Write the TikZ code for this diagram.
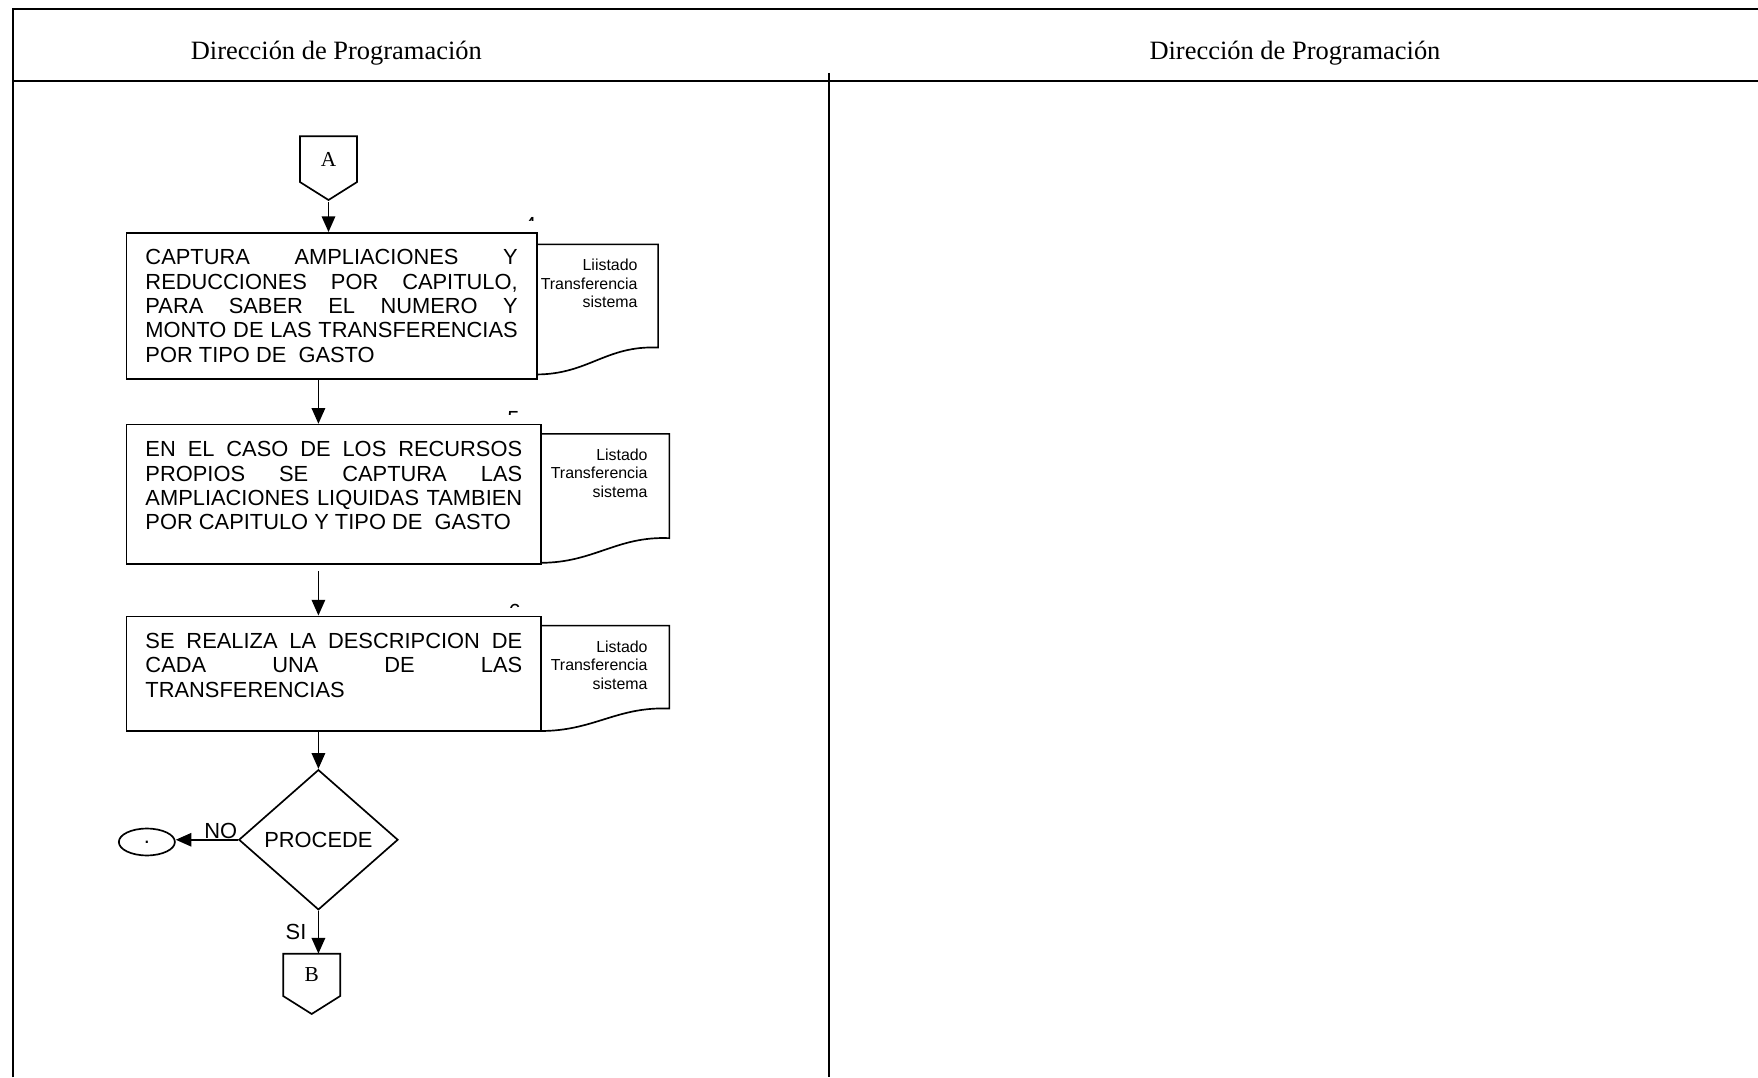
\documentclass[tikz,border=0pt]{standalone}
\usepackage{fontspec}
\setmainfont{Liberation Serif}
\newfontfamily\arialfont{Liberation Sans}
\usetikzlibrary{arrows.meta,shapes.geometric}
\hbadness=10000

\tikzset{
  frameline/.style={line width=0.9pt},
  procbox/.style={draw, line width=0.75pt, anchor=north west, inner xsep=8.5pt, inner ysep=7.5pt,
    font=\arialfont\fontsize{9.75}{10.85}\selectfont},
  docline/.style={line width=0.75pt},
  doctext/.style={anchor=east, inner sep=0pt, align=right, font=\arialfont\fontsize{7.1}{8.25}\selectfont},
  flow/.style={line width=0.75pt, -{Triangle[length=7pt,width=6pt]}},
  offpage/.style={minimum width=25pt, inner sep=0pt, font=\fontsize{9.5}{11}\selectfont},
  decision/.style={diamond, draw, line width=0.75pt, inner sep=0pt, minimum width=71pt, minimum height=62.5pt,
    font=\arialfont\fontsize{9.75}{11}\selectfont},
  endcircle/.style={ellipse, draw, line width=0.75pt, inner sep=0pt, minimum width=25pt, minimum height=12pt,
    font=\arialfont\fontsize{9.75}{8}\selectfont},
  steptag/.style={anchor=north, inner sep=0pt, font=\arialfont\fontsize{9.75}{11}\selectfont},
  branch/.style={inner sep=0pt, font=\arialfont\fontsize{9.75}{11}\selectfont},
}

\begin{document}
\begin{tikzpicture}[x=0.5pt, y=-0.5pt]
        \useasboundingbox (0,0) rectangle (1568,961);

        % Frame and column header
        \draw[frameline] (12,961) -- (12,8) -- (1568,8);
        \draw[frameline] (12,72) -- (1568,72);
        \draw[frameline] (739,65) -- (739,961);
        \node[font=\fontsize{11.8}{14}\selectfont] (hdrL) at (300,47) {Dirección de Programación};
        \node[font=\fontsize{11.8}{14}\selectfont] (hdrR) at (1155,47) {Dirección de Programación};

        % Off-page connector A
        \node[offpage, minimum height=20pt] (A) at (293,142) {A};
        \coordinate (Atip) at ([yshift=-8pt]A.south);
        \draw[line width=0.75pt] (A.north west) -- (A.north east) -- (A.south east) -- (Atip) -- (A.south west) -- cycle;

        % Documents (drawn first, the boxes cover their left edge)
        \draw[docline] (478,218) -- (587,218) -- (587,310) .. controls (540,308) and (525,334) .. (478,334);
        \node[doctext] (d1) at (569,253) {Liistado\\Transferencia\\sistema};
        \draw[docline] (482,387) -- (597,387) -- (597,480) .. controls (550,478) and (530,502) .. (482,502);
        \node[doctext] (d2) at (578,422) {Listado\\Transferencia\\sistema};
        \draw[docline] (482,558) -- (597,558) -- (597,632) .. controls (550,630) and (530,652) .. (482,652);
        \node[doctext] (d3) at (578,593) {Listado\\Transferencia\\sistema};

        % Process boxes
        \node[procbox, fill=white] (box1) at (112,207) {\parbox[c][50pt][t]{166pt}{CAPTURA AMPLIACIONES Y\linebreak
          REDUCCIONES POR CAPITULO,\linebreak PARA SABER EL NUMERO Y\linebreak
          MONTO DE LAS TRANSFERENCIAS\linebreak POR TIPO DE\ \ GASTO}};
        \node[procbox, fill=white] (box2) at (112,378) {\parbox[c][47pt][t]{168pt}{EN EL CASO DE LOS RECURSOS\linebreak
          PROPIOS SE CAPTURA LAS\linebreak AMPLIACIONES LIQUIDAS TAMBIEN\linebreak
          POR CAPITULO Y TIPO DE\ \ GASTO}};
        \node[procbox, fill=white] (box3) at (112,549) {\parbox[c][36pt][t]{168pt}{SE REALIZA LA DESCRIPCION DE\linebreak
          CADA UNA DE LAS\linebreak TRANSFERENCIAS}};

        % Step numbers, only their top shows
        \begin{scope}
          \clip (464,192.5) rectangle (484,196.5);
          \node[steptag] (s4) at (473,193.5) {4};
        \end{scope}
        \begin{scope}
          \clip (448,366) rectangle (470,369.5);
          \node[steptag] (s5) at (458,367) {5};
        \end{scope}
        \begin{scope}
          \clip (448,537.5) rectangle (470,541.5);
          \node[steptag] (s6) at (459,538.5) {6};
        \end{scope}

        % Decision, end and connector B
        \node[decision] (dec) at (284,749) {PROCEDE};
        \node[endcircle] (nd) at (131,751) {.};
        \node[offpage, minimum height=18.5pt] (B) at (278,869.5) {B};
        \coordinate (Btip) at ([yshift=-8pt]B.south);
        \draw[line width=0.75pt] (B.north west) -- (B.north east) -- (B.south east) -- (Btip) -- (B.south west) -- cycle;

        % Flow
        \coordinate (col) at (284,0);
        \draw[flow, shorten <=1pt] (Atip) -- (Atip |- box1.north);
        \draw[flow] (box1.south -| col) -- (box2.north -| col);
        \draw[flow, shorten <=3pt] (box2.south -| col) -- (box3.north -| col);
        \draw[flow] (box3.south -| col) -- (dec.north);
        \draw[flow] (dec.west) node[branch, anchor=south east] {NO} -- (dec.west -| nd.east);
        \draw[flow] (dec.south) -- node[branch, left, inner xsep=5pt] {SI} (dec.south |- B.north);
\end{tikzpicture}
\end{document}
